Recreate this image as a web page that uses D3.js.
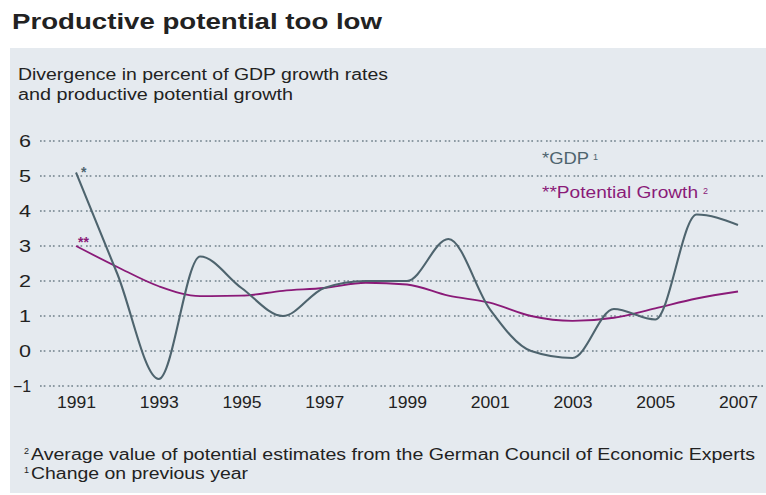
<!DOCTYPE html>
<html>
<head>
<meta charset="utf-8">
<script src="https://cdn.jsdelivr.net/npm/d3@7"></script>
<style>
  html, body { margin: 0; padding: 0; background: #ffffff; }
  svg { display: block; font-family: "Liberation Sans", Arial, Helvetica, sans-serif; }
</style>
</head>
<body>
<svg id="chart" width="766" height="495"></svg>
<script>
// Annual values, 1991–2007
const years = [1991, 1992, 1993, 1994, 1995, 1996, 1997, 1998, 1999, 2000, 2001, 2002, 2003, 2004, 2005, 2006, 2007];
const gdp = [5.1, 2.2, -0.8, 2.7, 1.8, 1.0, 1.8, 2.0, 2.0, 3.2, 1.2, 0.0, -0.2, 1.2, 0.9, 3.9, 3.6];
const potential = [3.0, 2.4, 1.85, 1.57, 1.58, 1.72, 1.8, 1.95, 1.9, 1.58, 1.38, 1.0, 0.86, 0.95, 1.22, 1.5, 1.7];
const xTickYears = [1991, 1993, 1995, 1997, 1999, 2001, 2003, 2005, 2007];
const yTicks = [-1, 0, 1, 2, 3, 4, 5, 6];

const gdpColor = "#4e646e";
const potColor = "#8a1a78";
const gridColor = "#6f808a";
const textColor = "#222222";

const svg = d3.select("#chart");

// Wide typeface look: stretch glyphs to a set run length
function fitText(sel, len) {
  return sel.attr("textLength", len).attr("lengthAdjust", "spacingAndGlyphs");
}

// Panel background
svg.append("rect")
  .attr("x", 10).attr("y", 48)
  .attr("width", 756).attr("height", 445)
  .attr("fill", "#e5eaef");

// Title
fitText(svg.append("text")
  .attr("x", 12).attr("y", 29)
  .attr("font-size", 22).attr("font-weight", "bold")
  .attr("fill", "#222")
  .text("Productive potential too low"), 370);

// Subtitle
fitText(svg.append("text").attr("x", 18).attr("y", 80)
  .attr("font-size", 16).attr("fill", textColor)
  .text("Divergence in percent of GDP growth rates"), 370);
fitText(svg.append("text").attr("x", 18).attr("y", 100)
  .attr("font-size", 16).attr("fill", textColor)
  .text("and productive potential growth"), 275);

const x = d3.scaleLinear().domain([1991, 2007]).range([76, 738]);
const y = d3.scaleLinear().domain([-1, 6]).range([386, 141]);

// Dotted gridlines
svg.append("g")
  .selectAll("line")
  .data(yTicks)
  .join("line")
  .attr("x1", 40).attr("x2", 766)
  .attr("y1", d => y(d)).attr("y2", d => y(d))
  .attr("stroke", gridColor)
  .attr("stroke-width", 1.7)
  .attr("stroke-dasharray", "1.7,2,1.7,3.8");

// Y axis labels
const yAxis = d3.axisLeft(y).tickValues(yTicks).tickSize(0).tickPadding(0).tickFormat(d3.format("d"));
svg.append("g")
  .attr("transform", "translate(31,0)")
  .call(yAxis)
  .call(g => g.select(".domain").remove())
  .call(g => g.selectAll("text")
    .attr("font-size", 16)
    .attr("font-family", "Liberation Sans, Arial, sans-serif")
    .attr("fill", textColor)
    .attr("dy", "0.35em")
    .attr("textLength", d => d < 0 ? 18 : 12)
    .attr("lengthAdjust", "spacingAndGlyphs"));

// X axis labels
const xAxis = d3.axisBottom(x).tickValues(xTickYears).tickSize(0).tickPadding(0).tickFormat(d3.format("d"));
svg.append("g")
  .attr("transform", "translate(0,397)")
  .call(xAxis)
  .call(g => g.select(".domain").remove())
  .call(g => g.selectAll("text")
    .attr("font-size", 16)
    .attr("font-family", "Liberation Sans, Arial, sans-serif")
    .attr("fill", textColor)
    .attr("dy", "0.71em")
    .attr("textLength", 39)
    .attr("lengthAdjust", "spacingAndGlyphs"));

// Series lines
const line = d3.line().curve(d3.curveMonotoneX);

svg.append("path")
  .attr("d", line(years.map((yr, i) => [x(yr), y(potential[i])])))
  .attr("fill", "none")
  .attr("stroke", potColor)
  .attr("stroke-width", 1.8);

svg.append("path")
  .attr("d", line(years.map((yr, i) => [x(yr), y(gdp[i])])))
  .attr("fill", "none")
  .attr("stroke", gdpColor)
  .attr("stroke-width", 2.1);

// Series markers at the start of each line
svg.append("text")
  .attr("x", x(years[0]) + 5).attr("y", y(gdp[0]) + 4)
  .attr("font-size", 14).attr("font-weight", "bold").attr("fill", gdpColor)
  .text("*");
svg.append("text")
  .attr("x", x(years[0]) + 2).attr("y", y(potential[0]) + 1)
  .attr("font-size", 14).attr("font-weight", "bold").attr("fill", potColor)
  .text("**");

// Legend labels
fitText(svg.append("text").attr("x", 542).attr("y", 164).attr("font-size", 16).attr("fill", gdpColor)
  .text("*GDP"), 47);
svg.append("text").attr("x", 593).attr("y", 160).attr("font-size", 9).attr("fill", gdpColor).text("1");

fitText(svg.append("text").attr("x", 542).attr("y", 198).attr("font-size", 16).attr("fill", potColor)
  .text("**Potential Growth"), 156);
svg.append("text").attr("x", 703).attr("y", 194).attr("font-size", 9).attr("fill", potColor).text("2");

// Footnotes
const fn = svg.append("g").attr("fill", textColor);
fn.append("text").attr("x", 24).attr("y", 454).attr("font-size", 9).text("2");
fitText(fn.append("text").attr("x", 31).attr("y", 460).attr("font-size", 16)
  .text("Average value of potential estimates from the German Council of Economic Experts"), 724);
fn.append("text").attr("x", 24).attr("y", 473).attr("font-size", 9).text("1");
fitText(fn.append("text").attr("x", 31).attr("y", 479).attr("font-size", 16)
  .text("Change on previous year"), 217);
</script>
</body>
</html>
